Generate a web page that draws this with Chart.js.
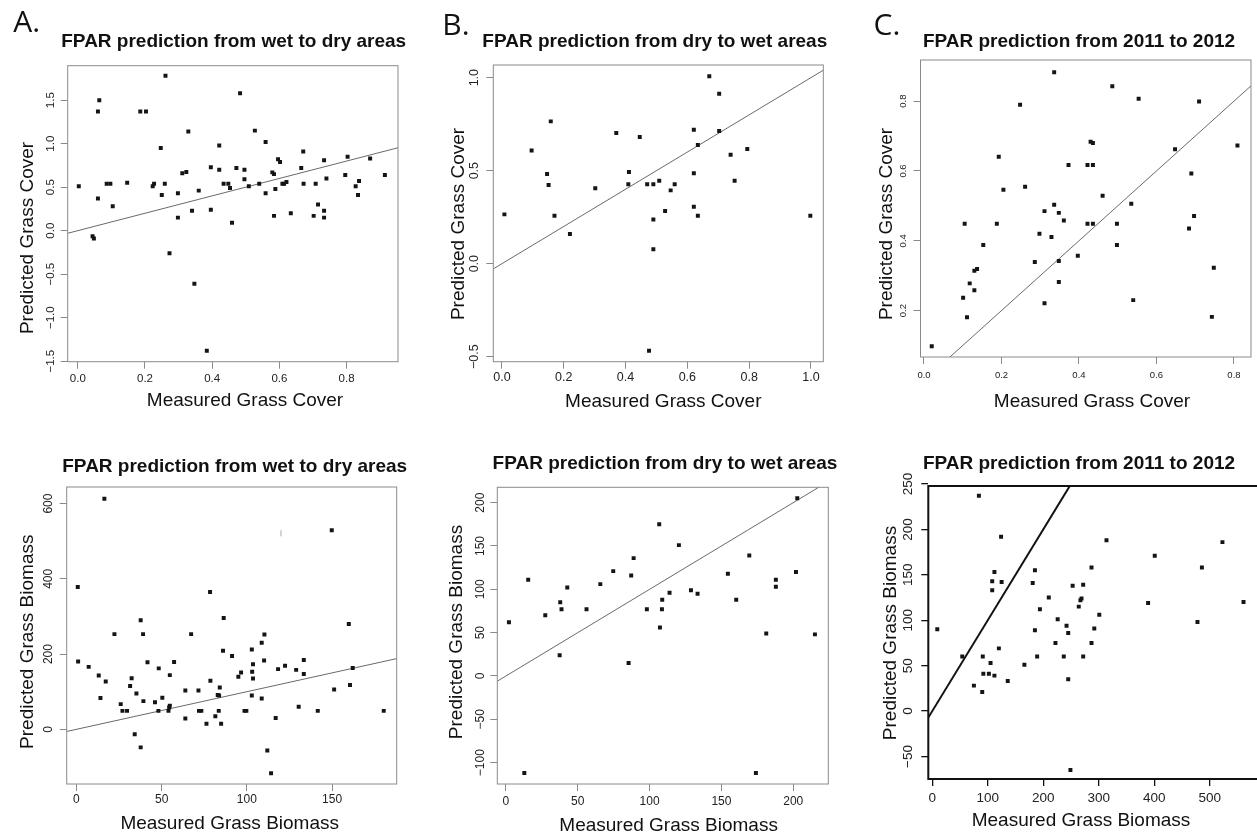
<!DOCTYPE html>
<html>
<head>
<meta charset="utf-8">
<script src="https://cdn.jsdelivr.net/npm/chart.js@4.4.1/dist/chart.umd.min.js"></script>
<style>
html,body{margin:0;padding:0;background:#fff;overflow:hidden;width:1257px;height:837px;position:relative;}
canvas{position:absolute;left:0;top:0;}
</style>
</head>
<body>
<canvas id="c0"></canvas>
<canvas id="c1"></canvas>
<canvas id="c2"></canvas>
<canvas id="c3"></canvas>
<canvas id="c4"></canvas>
<canvas id="c5"></canvas>
<script>
// ---------------- DATA ----------------
const letters = ["A.", "B.", "C."];
const panelTitles = ["FPAR prediction from wet to dry areas", "FPAR prediction from dry to wet areas", "FPAR prediction from 2011 to 2012"];
const xTitles = ["Measured Grass Cover", "Measured Grass Biomass"];
const yTitles = ["Predicted Grass Cover", "Predicted Grass Biomass"];

// 1:1 reference line (intercept, slope)
const oneToOne = [0, 1];

// A (top): grass cover, wet -> dry
const aTopX = [0.003,0.064,0.060,0.060,0.044,0.048,0.086,0.097,0.104,0.147,0.186,0.203,0.223,0.227,0.247,0.250,0.261,0.259,0.273,0.298,0.298,0.311,0.323,0.329,0.340,0.347,0.360,0.384,0.396,0.396,0.421,0.421,0.434,0.448,0.453,0.459,0.472,0.483,0.496,0.496,0.509,0.527,0.540,0.559,0.559,0.579,0.584,0.584,0.588,0.596,0.602,0.609,0.614,0.621,0.634,0.665,0.671,0.672,0.702,0.708,0.715,0.733,0.733,0.733,0.740,0.796,0.803,0.827,0.834,0.837,0.870,0.914];
const aTopY = [0.51,1.50,1.37,0.37,-0.065,-0.09,0.54,0.54,0.28,0.55,1.37,1.37,0.51,0.54,0.95,0.41,1.78,0.54,-0.26,0.43,0.15,0.66,0.675,1.14,0.23,-0.61,0.46,-1.38,0.73,0.24,0.98,0.70,0.54,0.54,0.49,0.09,0.72,1.58,0.70,0.59,0.51,1.15,0.54,1.02,0.43,0.67,0.65,0.17,0.48,0.82,0.79,0.54,0.54,0.56,0.20,0.72,0.91,0.54,0.17,0.54,0.30,0.81,0.23,0.15,0.60,0.64,0.85,0.51,0.41,0.57,0.83,0.64];
const aTopXLim = [-0.03, 0.953];
const aTopYLim = [-1.506, 1.896];
const aTopXTicks = ["0.0","0.2","0.4","0.6","0.8"];
const aTopYTicks = ["-1.5","-1.0","-0.5","0.0","0.5","1.0","1.5"];

// A (bottom): grass biomass, wet -> dry
const aBotX = [16.4,0.8,1.0,7.2,13.1,14.1,17.2,22.3,26.0,27.0,29.7,31.5,32.4,34.2,35.2,37.7,37.7,39.1,39.3,41.7,46.1,48.3,48.1,50.4,54.0,54.4,54.8,54.8,57.3,63.9,63.9,67.3,71.6,71.9,73.3,76.3,78.4,78.6,81.5,82.9,83.7,84.1,83.5,84.9,86.4,86.0,91.3,95.0,96.6,98.6,99.7,102.9,103.1,103.6,103.6,102.9,108.7,108.7,110.3,110.1,112.0,114.2,116.9,118.3,122.4,128.9,130.4,133.4,133.4,141.6,149.8,151.2,159.8,160.5,162.1,180.3];
const aBotY = [613,378,180,166,143,83,127,253,67,49,49,115,136,-13,95,290,-48,253,75,178,72,162,49,84,49,58,63,144,179,103,29,253,103,49,49,15,365,129,35,91,90,111,49,15,296,209,195,140,151,49,49,212,153,173,135,90,230,82,252,183,-56,-117,30,160,169,158,60,184,147,49,529,106,280,118,163,49];
const aBotStrayX = [120];
const aBotStrayY = [521];
const aBotXLim = [-5.7, 187.9];
const aBotYLim = [-145.3, 644];
const aBotXTicks = ["0","50","100","150"];
const aBotYTicks = ["0","200","400","600"];

// B (top): grass cover, dry -> wet
const bTopX = [0.008,0.096,0.146,0.151,0.158,0.170,0.220,0.302,0.370,0.411,0.409,0.446,0.470,0.490,0.490,0.490,0.509,0.528,0.546,0.559,0.621,0.621,0.621,0.634,0.634,0.671,0.703,0.703,0.740,0.753,0.794,0.998,0.476];
const bTopY = [0.265,0.608,0.482,0.423,0.765,0.258,0.16,0.405,0.703,0.493,0.427,0.681,0.427,0.427,0.237,0.077,0.446,0.283,0.394,0.427,0.720,0.486,0.306,0.638,0.258,1.007,0.914,0.713,0.586,0.446,0.616,0.258,-0.468];
const bTopXLim = [-0.028, 1.040];
const bTopYLim = [-0.527, 1.068];
const bTopXTicks = ["0.0","0.2","0.4","0.6","0.8","1.0"];
const bTopYTicks = ["-0.5","0.0","0.5","1.0"];

// B (bottom): grass biomass, dry -> wet
const bBotX = [2.1,15.5,12.8,27.4,37.4,37.8,38.7,42.7,56.1,65.7,74.7,85.4,87.2,88.9,98.1,106.7,107.2,108.6,108.8,113.9,120.4,128.8,133.4,154.5,160.3,169.4,174,181.2,187.9,187.9,201.9,202.8,215.1];
const bBotY = [62,111,-112,70,24,85,77,102,77,106,121,15,116,136,77,175,56,77,88,96,151,99,95,118,88,139,-112,49,111,103,120,205,48];
const bBotXLim = [-6.0, 224.4];
const bBotYLim = [-124.6, 217.7];
const bBotXTicks = ["0","50","100","150","200"];
const bBotYTicks = ["-100","-50","0","50","100","150","200"];

// C (top): grass cover, 2011 -> 2012
const cTopX = [0.020,0.101,0.105,0.111,0.118,0.130,0.130,0.137,0.153,0.188,0.193,0.205,0.248,0.261,0.286,0.298,0.311,0.311,0.329,0.336,0.336,0.348,0.348,0.348,0.361,0.373,0.397,0.422,0.422,0.430,0.436,0.436,0.436,0.461,0.486,0.498,0.498,0.535,0.540,0.554,0.648,0.684,0.690,0.697,0.710,0.743,0.748,0.809];
const cTopY = [0.098,0.237,0.449,0.181,0.278,0.258,0.314,0.319,0.388,0.449,0.641,0.546,0.790,0.555,0.339,0.420,0.485,0.221,0.411,0.503,0.883,0.480,0.342,0.282,0.458,0.617,0.357,0.449,0.617,0.684,0.680,0.617,0.449,0.529,0.843,0.449,0.388,0.506,0.230,0.807,0.662,0.435,0.593,0.471,0.799,0.182,0.323,0.673];
const cTopXLim = [-0.009, 0.844];
const cTopYLim = [0.067, 0.918];
const cTopXTicks = ["0.0","0.2","0.4","0.6","0.8"];
const cTopYTicks = ["0.2","0.4","0.6","0.8"];

// C (bottom): grass biomass, 2011 -> 2012
const cBotX = [9,54,75,84,91,90,92,102,105,108,108,112,112,124,125,120,136,166,181,185,185,189,194,210,222,226,237,242,245,245,249,253,264,267,269,272,272,287,287,292,301,314,389,401,478,486,523,561];
const cBotY = [90,60,28,237,60,21,41,41,53,133,143,153,39,192,142,69,33,51,141,155,89,60,112,125,75,101,60,94,86,35,-65,138,115,122,124,139,60,158,75,91,106,188,119,171,98,158,186,120];
const cBotXLim = [-7.2, 588];
const cBotYLim = [-74.8, 247.8];
const cBotXTicks = ["0","100","200","300","400","500"];
const cBotYTicks = ["-50","0","50","100","150","200","250"];

// ---------------- RENDERING ----------------
const FONT = "'Liberation Sans', Arial, Helvetica, sans-serif";
const W = 1300, H = 837, YW = 40, XH = 40, TL = 7;
Chart.defaults.font.family = FONT;

const disp = s => s.replace('-', '\u2212');
const mctx = document.createElement('canvas').getContext('2d');
function widest(labels, size) {
  mctx.font = size + 'px ' + FONT;
  return Math.max(...labels.map(l => mctx.measureText(l).width));
}

const annot = {
  id: 'annot',
  afterDraw(chart, args, opts) {
    const ctx = chart.ctx, a = chart.chartArea;
    ctx.save();
    ctx.strokeStyle = opts.boxColor;
    ctx.lineWidth = opts.boxWidth;
    ctx.strokeRect(a.left, a.top, a.right - a.left, a.bottom - a.top);
    for (const t of opts.texts) {
      ctx.save();
      ctx.font = (t.bold ? 'bold ' : '') + t.size + 'px ' + (t.family || FONT);
      ctx.fillStyle = '#111';
      ctx.textAlign = 'center';
      ctx.textBaseline = 'alphabetic';
      ctx.translate(t.x, t.y);
      if (t.rot) ctx.rotate(-Math.PI / 2);
      ctx.fillText(t.text, 0, (t.capShift || 0.36) * t.size);
      ctx.restore();
    }
    ctx.restore();
  }
};

function makePanel(p) {
  const canvas = document.getElementById(p.id);
  canvas.width = W; canvas.height = H;
  canvas.style.width = W + 'px'; canvas.style.height = H + 'px';
  const a = p.area;
  const xVals = p.xTicks.map(parseFloat), yVals = p.yTicks.map(parseFloat);
  const xLabels = p.xTicks.map(disp), yLabels = p.yTicks.map(disp);
  const yPad = p.yLabOff - TL - widest(yLabels, p.tickSize) / 2;
  const xPad = p.xLabOff - TL - 0.6 * p.tickSize;
  const pts = p.xs.map((x, i) => ({x: x, y: p.ys[i]}));
  const [x0, x1] = p.xLim;
  const fit = [{x: x0, y: oneToOne[0] + oneToOne[1] * x0}, {x: x1, y: oneToOne[0] + oneToOne[1] * x1}];
  const datasets = [
    {data: pts, pointStyle: 'rect', pointRadius: 2.8, backgroundColor: '#141414', borderWidth: 0, showLine: false, order: 1},
    {data: fit, showLine: true, pointRadius: 0, borderColor: p.lineColor, borderWidth: p.lineWidth, clip: 0, order: 2}
  ];
  if (p.stray) {
    datasets.push({data: p.stray, pointStyle: 'line', rotation: 90, pointRadius: 3, borderColor: '#aaaaaa', borderWidth: 1, showLine: false});
  }
  const gridOpts = {display: true, drawOnChartArea: false, drawTicks: true, tickLength: TL, color: p.axisColor, lineWidth: p.tickWidth || 1};
  new Chart(canvas, {
    type: 'scatter',
    data: {datasets: datasets},
    options: {
      responsive: false,
      animation: false,
      events: [],
      devicePixelRatio: 1,
      layout: {padding: {left: a.left - YW, top: a.top, right: W - a.right, bottom: H - a.bottom - XH}},
      plugins: {
        legend: {display: false},
        tooltip: {enabled: false},
        title: {display: false},
        annot: {boxColor: p.axisColor, boxWidth: p.boxWidth, texts: p.texts}
      },
      scales: {
        x: {
          type: 'linear', position: 'bottom', min: p.xLim[0], max: p.xLim[1],
          afterBuildTicks: s => { s.ticks = xVals.map(v => ({value: v})); },
          afterFit: s => { s.height = XH; },
          grid: gridOpts,
          border: {display: false},
          ticks: {autoSkip: false, minRotation: 0, maxRotation: 0, padding: xPad, color: '#222',
                  font: {size: p.tickSize}, callback: (v, i) => xLabels[i]}
        },
        y: {
          type: 'linear', position: 'left', min: p.yLim[0], max: p.yLim[1],
          afterBuildTicks: s => { s.ticks = yVals.map(v => ({value: v})); },
          afterFit: s => { s.width = YW; },
          grid: gridOpts,
          border: {display: false},
          ticks: {autoSkip: false, minRotation: 90, maxRotation: 90, crossAlign: 'center', padding: yPad, color: '#222',
                  font: {size: p.tickSize}, callback: (v, i) => yLabels[i]}
        }
      }
    },
    plugins: [annot]
  });
}

const grey = '#8a8a8a', lineGrey = '#6a6a6a';
const panels = [
  {id: 'c0', xs: aTopX, ys: aTopY, xLim: aTopXLim, yLim: aTopYLim, xTicks: aTopXTicks, yTicks: aTopYTicks,
   area: {left: 67.7, right: 398, top: 65.7, bottom: 361.7}, tickSize: 11.5, yLabOff: 17, xLabOff: 17.3,
   axisColor: grey, boxWidth: 1, lineColor: lineGrey, lineWidth: 1,
   texts: [
     {text: letters[0], x: 26.7, y: 21, size: 30, family: "'Open Sans', sans-serif"},
     {text: panelTitles[0], x: 233.7, y: 40, size: 19, bold: true},
     {text: xTitles[0], x: 245, y: 399, size: 19},
     {text: yTitles[0], x: 26, y: 238, size: 19, rot: true}
   ]},
  {id: 'c1', xs: aBotX, ys: aBotY, xLim: aBotXLim, yLim: aBotYLim, xTicks: aBotXTicks, yTicks: aBotYTicks,
   stray: aBotStrayX.map((x, i) => ({x: x, y: aBotStrayY[i]})),
   area: {left: 66.7, right: 396.7, top: 487, bottom: 784}, tickSize: 12, yLabOff: 17.7, xLabOff: 16,
   axisColor: grey, boxWidth: 1, lineColor: lineGrey, lineWidth: 1,
   texts: [
     {text: panelTitles[0], x: 234.7, y: 465, size: 19, bold: true},
     {text: xTitles[1], x: 229.7, y: 821.7, size: 19},
     {text: yTitles[1], x: 26, y: 641.7, size: 19, rot: true}
   ]},
  {id: 'c2', xs: bTopX, ys: bTopY, xLim: bTopXLim, yLim: bTopYLim, xTicks: bTopXTicks, yTicks: bTopYTicks,
   area: {left: 493.3, right: 823.3, top: 65, bottom: 361.7}, tickSize: 12.5, yLabOff: 18.3, xLabOff: 16.3,
   axisColor: grey, boxWidth: 1, lineColor: lineGrey, lineWidth: 1,
   texts: [
     {text: letters[1], x: 456, y: 24, size: 30, family: "'Open Sans', sans-serif"},
     {text: panelTitles[1], x: 654.8, y: 40, size: 19, bold: true},
     {text: xTitles[0], x: 663.3, y: 400, size: 19},
     {text: yTitles[0], x: 457, y: 224, size: 19, rot: true}
   ]},
  {id: 'c3', xs: bBotX, ys: bBotY, xLim: bBotXLim, yLim: bBotYLim, xTicks: bBotXTicks, yTicks: bBotYTicks,
   area: {left: 497.3, right: 828.3, top: 487.3, bottom: 784}, tickSize: 12, yLabOff: 17, xLabOff: 17.7,
   axisColor: grey, boxWidth: 1, lineColor: lineGrey, lineWidth: 1,
   texts: [
     {text: panelTitles[1], x: 665, y: 462, size: 19, bold: true},
     {text: xTitles[1], x: 668.6, y: 824, size: 19},
     {text: yTitles[1], x: 455, y: 632, size: 19, rot: true}
   ]},
  {id: 'c4', xs: cTopX, ys: cTopY, xLim: cTopXLim, yLim: cTopYLim, xTicks: cTopXTicks, yTicks: cTopYTicks,
   area: {left: 920.5, right: 1251, top: 60, bottom: 357}, tickSize: 9.5, yLabOff: 17.2, xLabOff: 18,
   axisColor: grey, boxWidth: 1, lineColor: lineGrey, lineWidth: 1,
   texts: [
     {text: letters[2], x: 887, y: 24, size: 30, family: "'Open Sans', sans-serif"},
     {text: panelTitles[2], x: 1079, y: 40, size: 19, bold: true},
     {text: xTitles[0], x: 1092, y: 400, size: 19},
     {text: yTitles[0], x: 885.5, y: 224, size: 19, rot: true}
   ]},
  {id: 'c5', xs: cBotX, ys: cBotY, xLim: cBotXLim, yLim: cBotYLim, xTicks: cBotXTicks, yTicks: cBotYTicks,
   area: {left: 928.3, right: 1258.5, top: 486, bottom: 779}, tickSize: 13.5, yLabOff: 20, xLabOff: 19.3,
   axisColor: '#111', boxWidth: 2, tickWidth: 1.3, lineColor: '#111', lineWidth: 2,
   texts: [
     {text: panelTitles[2], x: 1079, y: 462, size: 19, bold: true},
     {text: xTitles[1], x: 1081, y: 819, size: 19},
     {text: yTitles[1], x: 889, y: 633, size: 19, rot: true}
   ]}
];
panels.forEach(makePanel);
</script>
</body>
</html>
